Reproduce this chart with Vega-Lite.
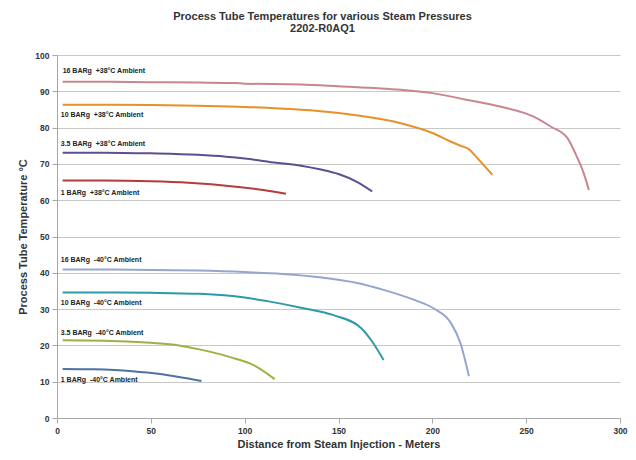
{
  "$schema": "https://vega.github.io/schema/vega-lite/v6.json",
  "width": 563,
  "height": 363,
  "autosize": {"type": "none"},
  "padding": {"left": 57, "top": 55, "right": 16, "bottom": 42},
  "background": "#ffffff",
  "title": {
    "text": ["Process Tube Temperatures for various Steam Pressures", "2202-R0AQ1"],
    "font": "Liberation Sans",
    "fontSize": 11,
    "fontWeight": "bold",
    "color": "#333333",
    "anchor": "middle",
    "dx": -16,
    "offset": 17,
    "lineHeight": 12
  },
  "datasets": {
    "curves": [
      {"s": "16 BARg +38", "d": 3, "t": 92.6}, {"s": "16 BARg +38", "d": 25, "t": 92.6}, {"s": "16 BARg +38", "d": 50, "t": 92.5}, {"s": "16 BARg +38", "d": 75, "t": 92.4}, {"s": "16 BARg +38", "d": 95, "t": 92.3}, {"s": "16 BARg +38", "d": 100, "t": 92.1}, {"s": "16 BARg +38", "d": 130, "t": 91.9}, {"s": "16 BARg +38", "d": 150, "t": 91.4}, {"s": "16 BARg +38", "d": 183, "t": 90.4}, {"s": "16 BARg +38", "d": 200, "t": 89.5}, {"s": "16 BARg +38", "d": 218, "t": 87.7}, {"s": "16 BARg +38", "d": 236, "t": 85.8}, {"s": "16 BARg +38", "d": 254, "t": 83.0}, {"s": "16 BARg +38", "d": 263, "t": 80.3}, {"s": "16 BARg +38", "d": 272, "t": 77.1}, {"s": "16 BARg +38", "d": 277, "t": 72.0}, {"s": "16 BARg +38", "d": 280.7, "t": 67.4}, {"s": "16 BARg +38", "d": 283.4, "t": 62.8},
      {"s": "10 BARg +38", "d": 3, "t": 86.3}, {"s": "10 BARg +38", "d": 25, "t": 86.3}, {"s": "10 BARg +38", "d": 50, "t": 86.2}, {"s": "10 BARg +38", "d": 75, "t": 86.0}, {"s": "10 BARg +38", "d": 100, "t": 85.7}, {"s": "10 BARg +38", "d": 130, "t": 84.9}, {"s": "10 BARg +38", "d": 150, "t": 84.0}, {"s": "10 BARg +38", "d": 183, "t": 81.2}, {"s": "10 BARg +38", "d": 200, "t": 78.5}, {"s": "10 BARg +38", "d": 210, "t": 76.1}, {"s": "10 BARg +38", "d": 215, "t": 75.0}, {"s": "10 BARg +38", "d": 219, "t": 74.2}, {"s": "10 BARg +38", "d": 224, "t": 71.6}, {"s": "10 BARg +38", "d": 228, "t": 69.3}, {"s": "10 BARg +38", "d": 232, "t": 67.0},
      {"s": "3.5 BARg +38", "d": 3, "t": 73.1}, {"s": "3.5 BARg +38", "d": 25, "t": 73.1}, {"s": "3.5 BARg +38", "d": 50, "t": 72.9}, {"s": "3.5 BARg +38", "d": 75, "t": 72.5}, {"s": "3.5 BARg +38", "d": 90, "t": 72.0}, {"s": "3.5 BARg +38", "d": 100, "t": 71.5}, {"s": "3.5 BARg +38", "d": 117, "t": 70.3}, {"s": "3.5 BARg +38", "d": 130, "t": 69.5}, {"s": "3.5 BARg +38", "d": 140, "t": 68.5}, {"s": "3.5 BARg +38", "d": 150, "t": 67.2}, {"s": "3.5 BARg +38", "d": 160, "t": 65.0}, {"s": "3.5 BARg +38", "d": 168, "t": 62.4},
      {"s": "1 BARg +38", "d": 3, "t": 65.4}, {"s": "1 BARg +38", "d": 25, "t": 65.4}, {"s": "1 BARg +38", "d": 50, "t": 65.2}, {"s": "1 BARg +38", "d": 70, "t": 64.8}, {"s": "1 BARg +38", "d": 94, "t": 63.8}, {"s": "1 BARg +38", "d": 110, "t": 62.8}, {"s": "1 BARg +38", "d": 122, "t": 61.8},
      {"s": "16 BARg -40", "d": 3, "t": 40.9}, {"s": "16 BARg -40", "d": 25, "t": 40.9}, {"s": "16 BARg -40", "d": 50, "t": 40.8}, {"s": "16 BARg -40", "d": 75, "t": 40.6}, {"s": "16 BARg -40", "d": 100, "t": 40.2}, {"s": "16 BARg -40", "d": 120, "t": 39.7}, {"s": "16 BARg -40", "d": 140, "t": 38.8}, {"s": "16 BARg -40", "d": 160, "t": 37.2}, {"s": "16 BARg -40", "d": 174, "t": 35.3}, {"s": "16 BARg -40", "d": 190, "t": 32.6}, {"s": "16 BARg -40", "d": 201, "t": 30.1}, {"s": "16 BARg -40", "d": 210, "t": 26.1}, {"s": "16 BARg -40", "d": 215, "t": 20.6}, {"s": "16 BARg -40", "d": 219.5, "t": 11.5},
      {"s": "10 BARg -40", "d": 3, "t": 34.6}, {"s": "10 BARg -40", "d": 25, "t": 34.6}, {"s": "10 BARg -40", "d": 50, "t": 34.5}, {"s": "10 BARg -40", "d": 76, "t": 34.2}, {"s": "10 BARg -40", "d": 100, "t": 33.2}, {"s": "10 BARg -40", "d": 112, "t": 32.2}, {"s": "10 BARg -40", "d": 130, "t": 30.4}, {"s": "10 BARg -40", "d": 147, "t": 28.4}, {"s": "10 BARg -40", "d": 162, "t": 24.8}, {"s": "10 BARg -40", "d": 168, "t": 21.0}, {"s": "10 BARg -40", "d": 174, "t": 16.0},
      {"s": "3.5 BARg -40", "d": 3, "t": 21.4}, {"s": "3.5 BARg -40", "d": 25, "t": 21.3}, {"s": "3.5 BARg -40", "d": 50, "t": 20.7}, {"s": "3.5 BARg -40", "d": 65, "t": 20.0}, {"s": "3.5 BARg -40", "d": 76, "t": 18.9}, {"s": "3.5 BARg -40", "d": 94, "t": 16.5}, {"s": "3.5 BARg -40", "d": 105, "t": 14.5}, {"s": "3.5 BARg -40", "d": 116, "t": 10.7},
      {"s": "1 BARg -40", "d": 3, "t": 13.5}, {"s": "1 BARg -40", "d": 20, "t": 13.4}, {"s": "1 BARg -40", "d": 40, "t": 12.9}, {"s": "1 BARg -40", "d": 55, "t": 12.1}, {"s": "1 BARg -40", "d": 65, "t": 11.3}, {"s": "1 BARg -40", "d": 77, "t": 10.2}
    ],
    "labels": [
      {"label": "16 BARg\u00a0 +38°C Ambient", "d": 3, "t": 95.5},
      {"label": "10 BARg\u00a0 +38°C Ambient", "d": 2, "t": 83.5},
      {"label": "3.5 BARg\u00a0 +38°C Ambient", "d": 2, "t": 75.5},
      {"label": "1 BARg\u00a0 +38°C Ambient", "d": 2, "t": 62.1},
      {"label": "16 BARg\u00a0 -40°C Ambient", "d": 2, "t": 43.6},
      {"label": "10 BARg\u00a0 -40°C Ambient", "d": 2, "t": 31.7},
      {"label": "3.5 BARg\u00a0 -40°C Ambient", "d": 2, "t": 23.4},
      {"label": "1 BARg\u00a0 -40°C Ambient", "d": 2, "t": 10.4}
    ]
  },
  "encoding": {
    "x": {
      "field": "d", "type": "quantitative",
      "scale": {"domain": [0, 300]},
      "axis": {
        "title": "Distance from Steam Injection - Meters",
        "values": [0, 50, 100, 150, 200, 250, 300],
        "grid": false,
        "titleFontSize": 11,
        "titlePadding": 4
      }
    },
    "y": {
      "field": "t", "type": "quantitative",
      "scale": {"domain": [0, 100]},
      "axis": {
        "title": "Process Tube Temperature °C",
        "values": [0, 10, 20, 30, 40, 50, 60, 70, 80, 90, 100],
        "grid": true,
        "titleFontSize": 11,
        "titlePadding": 6
      }
    }
  },
  "layer": [
    {
      "data": {"name": "curves"},
      "mark": {"type": "line", "strokeWidth": 2, "interpolate": "monotone"},
      "encoding": {
        "color": {
          "field": "s", "type": "nominal", "legend": null,
          "scale": {
            "domain": ["16 BARg +38", "10 BARg +38", "3.5 BARg +38", "1 BARg +38", "16 BARg -40", "10 BARg -40", "3.5 BARg -40", "1 BARg -40"],
            "range": ["#c8868e", "#e8902a", "#5b4f8f", "#b83a3a", "#95a5cf", "#2e9aa8", "#9cb243", "#4b73a6"]
          }
        }
      }
    },
    {
      "data": {"name": "labels"},
      "mark": {"type": "text", "align": "left", "baseline": "middle", "font": "Liberation Sans", "fontSize": 7, "fontWeight": "bold", "color": "#222222"},
      "encoding": {
        "text": {"field": "label"}
      }
    }
  ],
  "config": {
    "view": {"stroke": null},
    "axis": {
      "labelFont": "Liberation Sans",
      "labelFontSize": 8.5,
      "labelFontWeight": "bold",
      "labelColor": "#333333",
      "labelOverlap": false,
      "labelFlush": false,
      "titleFont": "Liberation Sans",
      "titleFontSize": 9.5,
      "titleFontWeight": "bold",
      "titleColor": "#333333",
      "domainColor": "#a8a8a8",
      "tickColor": "#a8a8a8",
      "tickSize": 5,
      "gridColor": "#c8c8c8",
      "gridWidth": 1,
      "labelPadding": 3,
      "titlePadding": 5
    }
  }
}
